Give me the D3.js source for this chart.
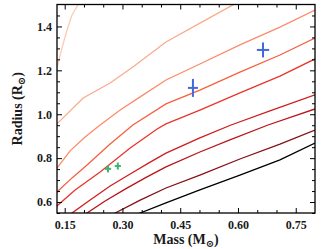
<!DOCTYPE html>
<html>
<head>
<meta charset="utf-8">
<script src="https://cdn.jsdelivr.net/npm/d3@7"></script>
<style>
  html, body { margin: 0; padding: 0; background: #fff; }
  svg { display: block; }
</style>
</head>
<body>
<svg width="332" height="249"></svg>
<script>
// mass-radius tracks, lightest (top) to black (bottom); [mass, radius]
const track1 = [[0.125, 1.19], [0.13, 1.211], [0.143, 1.302], [0.156, 1.384], [0.169, 1.452], [0.185, 1.50], [0.19, 1.53]];
const track2 = [[0.125, 0.935], [0.13, 0.956], [0.198, 1.074], [0.268, 1.142], [0.327, 1.215], [0.413, 1.329], [0.499, 1.413], [0.587, 1.498], [0.605, 1.516]];
const track3 = [[0.125, 0.73], [0.13, 0.755], [0.164, 0.833], [0.203, 0.896], [0.242, 0.951], [0.294, 1.019], [0.346, 1.079], [0.413, 1.156], [0.501, 1.229], [0.605, 1.316], [0.709, 1.397], [0.80, 1.475]];
const track4 = [[0.125, 0.62], [0.13, 0.646], [0.169, 0.710], [0.208, 0.769], [0.268, 0.864], [0.327, 0.951], [0.413, 1.047], [0.501, 1.110], [0.605, 1.192], [0.709, 1.270], [0.80, 1.347]];
const track5 = [[0.125, 0.56], [0.13, 0.582], [0.177, 0.655], [0.242, 0.737], [0.320, 0.846], [0.390, 0.933], [0.413, 0.956], [0.501, 1.019], [0.605, 1.097], [0.709, 1.174], [0.80, 1.252]];
const track6 = [[0.153, 0.514], [0.169, 0.550], [0.216, 0.609], [0.268, 0.673], [0.320, 0.728], [0.372, 0.782], [0.413, 0.823], [0.501, 0.892], [0.582, 0.951], [0.683, 1.015], [0.80, 1.088]];
const track7 = [[0.190, 0.523], [0.208, 0.550], [0.255, 0.605], [0.307, 0.659], [0.359, 0.710], [0.413, 0.760], [0.501, 0.828], [0.579, 0.883], [0.678, 0.951], [0.80, 1.024]];
const track8 = [[0.255, 0.523], [0.281, 0.550], [0.346, 0.609], [0.413, 0.664], [0.501, 0.723], [0.605, 0.796], [0.709, 0.864], [0.80, 0.928]];
const track9 = [[0.307, 0.523], [0.346, 0.550], [0.413, 0.596], [0.501, 0.655], [0.605, 0.723], [0.709, 0.792], [0.80, 0.869]];
const tracks = [track1, track2, track3, track4, track5, track6, track7, track8, track9];
const trackColors = ["#fdcab5", "#fcaa8e", "#fc8b6b", "#f7603f", "#e8362b", "#d01d1f", "#b8141a", "#861016", "#000000"];

// measured stars: mass, mass error, radius, radius error
const blueStars = [
  { m: 0.483, dm: 0.013, r: 1.120, dr: 0.041 },
  { m: 0.665, dm: 0.016, r: 1.293, dr: 0.034 }
];
const greenStars = [
  { m: 0.2625, dm: 0.008, r: 0.751, dr: 0.016 },
  { m: 0.288, dm: 0.008, r: 0.764, dr: 0.016 }
];

const xMajor = [0.15, 0.30, 0.45, 0.60, 0.75];
const yMajor = [0.6, 0.8, 1.0, 1.2, 1.4];

const width = 332;
const height = 249;
const margin = { top: 4.5, right: 17, bottom: 36, left: 57 };
const font = "'Liberation Serif', 'DejaVu Serif', serif";

const svg = d3.select("svg");

const x = d3.scaleLinear().domain([0.13, 0.80]).range([margin.left, width - margin.right]);
const y = d3.scaleLinear().domain([0.55, 1.50]).range([height - margin.bottom, margin.top]);

svg.append("defs").append("clipPath")
  .attr("id", "plot")
  .append("rect")
  .attr("x", x.range()[0])
  .attr("y", y.range()[1])
  .attr("width", x.range()[1] - x.range()[0])
  .attr("height", y.range()[0] - y.range()[1]);

const line = d3.line()
  .x(d => x(d[0]))
  .y(d => y(d[1]));

svg.append("g")
  .attr("clip-path", "url(#plot)")
  .selectAll("path")
  .data(tracks)
  .join("path")
  .attr("d", line)
  .attr("fill", "none")
  .attr("stroke", (d, i) => trackColors[i])
  .attr("stroke-width", 1.3);

// error-bar crosses
function crosses(data, color) {
  const g = svg.append("g").attr("stroke", color).attr("stroke-width", 2);
  g.selectAll(".h").data(data).join("line")
    .attr("x1", d => x(d.m - d.dm)).attr("x2", d => x(d.m + d.dm))
    .attr("y1", d => y(d.r)).attr("y2", d => y(d.r));
  g.selectAll(".v").data(data).join("line")
    .attr("x1", d => x(d.m)).attr("x2", d => x(d.m))
    .attr("y1", d => y(d.r - d.dr)).attr("y2", d => y(d.r + d.dr));
}
crosses(blueStars, "#4169dc");
crosses(greenStars, "#3cb86e");

// axes: majors with labels, minors, mirrored top/right
const step = 0.05;
const xMinor = d3.range(0.15, 0.80, step).filter(v => !xMajor.some(m => Math.abs(m - v) < 1e-6));
const yMinor = d3.range(0.55, 1.50, step).filter(v => !yMajor.some(m => Math.abs(m - v) < 1e-6));
const x0 = x.range()[0], x1 = x.range()[1];
const y0 = y.range()[0], y1 = y.range()[1];

function styleAxis(g) {
  g.select(".domain").remove();
  g.selectAll(".tick line").attr("stroke", "#000").attr("stroke-width", 1);
  g.selectAll(".tick text")
    .attr("fill", "#1a1a1a")
    .style("font-family", font)
    .style("font-size", "12px")
    .style("font-weight", "bold");
}

svg.append("g").attr("transform", `translate(0,${y0})`)
  .call(d3.axisBottom(x).tickValues(xMajor).tickFormat(d3.format(".2f")).tickSizeInner(-5).tickSizeOuter(0).tickPadding(7))
  .call(styleAxis);
svg.append("g").attr("transform", `translate(0,${y0})`)
  .call(d3.axisBottom(x).tickValues(xMinor).tickFormat("").tickSizeInner(-3).tickSizeOuter(0))
  .call(styleAxis);
svg.append("g").attr("transform", `translate(0,${y1})`)
  .call(d3.axisTop(x).tickValues(xMajor).tickFormat("").tickSizeInner(-5).tickSizeOuter(0))
  .call(styleAxis);
svg.append("g").attr("transform", `translate(0,${y1})`)
  .call(d3.axisTop(x).tickValues(xMinor).tickFormat("").tickSizeInner(-3).tickSizeOuter(0))
  .call(styleAxis);

svg.append("g").attr("transform", `translate(${x0},0)`)
  .call(d3.axisLeft(y).tickValues(yMajor).tickFormat(d3.format(".1f")).tickSizeInner(-5).tickSizeOuter(0).tickPadding(5))
  .call(styleAxis);
svg.append("g").attr("transform", `translate(${x0},0)`)
  .call(d3.axisLeft(y).tickValues(yMinor).tickFormat("").tickSizeInner(-3).tickSizeOuter(0))
  .call(styleAxis);
svg.append("g").attr("transform", `translate(${x1},0)`)
  .call(d3.axisRight(y).tickValues(yMajor).tickFormat("").tickSizeInner(-5).tickSizeOuter(0))
  .call(styleAxis);
svg.append("g").attr("transform", `translate(${x1},0)`)
  .call(d3.axisRight(y).tickValues(yMinor).tickFormat("").tickSizeInner(-3).tickSizeOuter(0))
  .call(styleAxis);

// frame
svg.append("rect")
  .attr("x", x0).attr("y", y1)
  .attr("width", x1 - x0).attr("height", y0 - y1)
  .attr("fill", "none")
  .attr("stroke", "#000")
  .attr("stroke-width", 1.3);

// axis titles
const xTitle = svg.append("text")
  .attr("x", (x0 + x1) / 2)
  .attr("y", 244)
  .attr("text-anchor", "middle")
  .style("font-family", font)
  .style("font-size", "14px")
  .style("font-weight", "bold")
  .attr("fill", "#1a1a1a");
xTitle.append("tspan").text("Mass (M");
xTitle.append("tspan").attr("dy", 3).style("font-size", "10px").text("⊙");
xTitle.append("tspan").attr("dy", -3).text(")");

const yTitle = svg.append("text")
  .attr("transform", `translate(22,${(y0 + y1) / 2}) rotate(-90)`)
  .attr("text-anchor", "middle")
  .style("font-family", font)
  .style("font-size", "14px")
  .style("font-weight", "bold")
  .attr("fill", "#1a1a1a");
yTitle.append("tspan").text("Radius (R");
yTitle.append("tspan").attr("dy", 3).style("font-size", "10px").text("⊙");
yTitle.append("tspan").attr("dy", -3).text(")");
</script>
</body>
</html>
